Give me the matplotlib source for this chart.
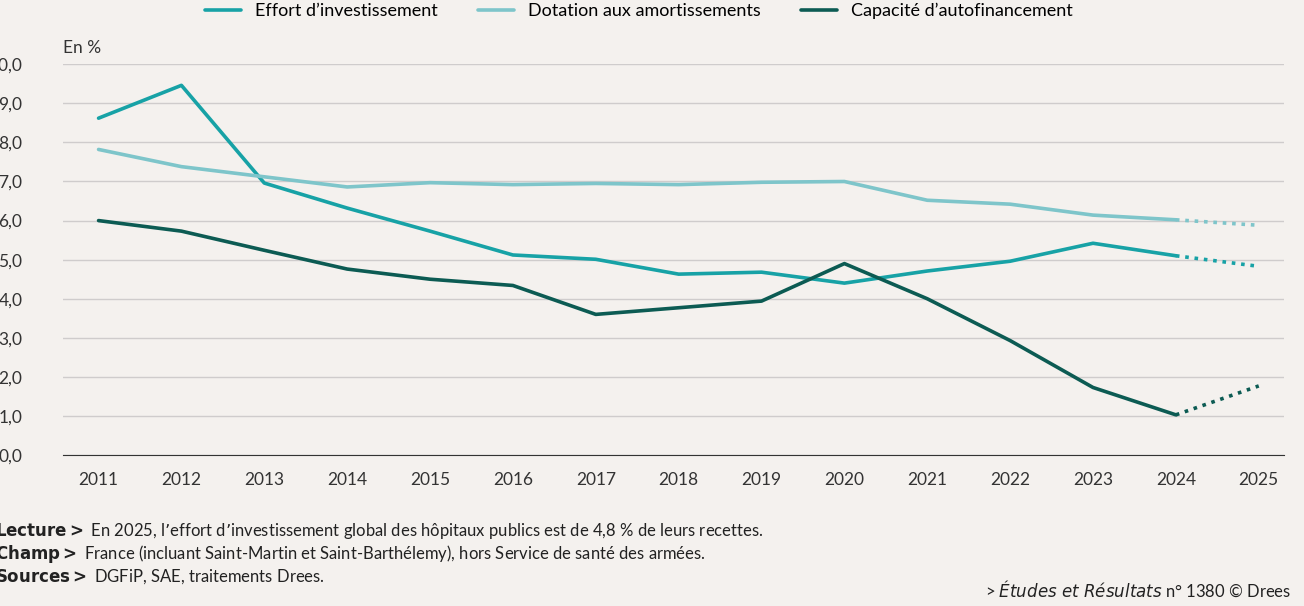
import matplotlib.pyplot as plt

plt.rcParams['font.family'] = ['Lato', 'DejaVu Sans']

annees = list(range(2011, 2026))
effort = [8.62, 9.46, 6.96, 6.32, 5.73, 5.12, 5.01, 4.63, 4.68, 4.40, 4.71, 4.96, 5.42, 5.10, 4.83]
dotation = [7.82, 7.38, 7.12, 6.86, 6.97, 6.92, 6.95, 6.92, 6.98, 7.00, 6.52, 6.42, 6.14, 6.02, 5.88]
caf = [6.00, 5.73, 5.24, 4.76, 4.50, 4.34, 3.60, 3.77, 3.94, 4.90, 4.00, 2.93, 1.73, 1.03, 1.77]

series = [
    ("Effort d\u2019investissement", effort, "#17a2a6"),
    ("Dotation aux amortissements", dotation, "#7ec5ca"),
    ("Capacité d\u2019autofinancement", caf, "#0c5b53"),
]

bg = "#f4f1ee"
fig = plt.figure(figsize=(13.04, 6.06), dpi=100, facecolor=bg)
ax = fig.add_axes([0.048, 0.249, 0.937, 0.645], facecolor=bg)

for nom, vals, col in series:
    ax.plot(annees[:-1], vals[:-1], color=col, lw=2.6, label=nom, solid_capstyle="round")
    ax.plot(annees[-2:], vals[-2:], color=col, lw=2.6, ls=(0, (1, 1.6)))

ax.set_xlim(2010.566, 2025.31)
ax.set_ylim(0, 10)
ax.set_yticks(range(11))
ax.set_yticklabels([f"{v},0" for v in range(11)])
ax.set_xticks(annees)
ax.tick_params(length=0, labelsize=12.5, colors="#333333")
ax.tick_params(axis="x", pad=12)
ax.tick_params(axis="y", pad=29)
ax.grid(axis="y", color="#cfcccc", lw=1)
ax.set_axisbelow(True)
for s in ["top", "right", "left"]:
    ax.spines[s].set_visible(False)
ax.spines["bottom"].set_color("#333333")
ax.text(-0.0, 1.03, "En %", transform=ax.transAxes, fontsize=12.5, color="#333333")

fig.legend(loc="upper center", bbox_to_anchor=(0.49, 1.022), ncol=3, frameon=False,
           fontsize=13, handlelength=2, columnspacing=2.2)

txt = dict(fontsize=12, color="#222222")
fig.text(-0.004, 0.115, r"$\bf{Lecture >}$" + " En 2025, l\u2019effort d\u2019investissement global des hôpitaux publics est de 4,8 % de leurs recettes.", **txt)
fig.text(-0.004, 0.078, r"$\bf{Champ >}$" + " France (incluant Saint-Martin et Saint-Barthélemy), hors Service de santé des armées.", **txt)
fig.text(-0.004, 0.041, r"$\bf{Sources >}$" + " DGFiP, SAE, traitements Drees.", **txt)
fig.text(0.99, 0.015, r"> $\it{Études\ et\ Résultats}$ n° 1380 © Drees", ha="right", **txt)

fig.savefig("out.png", facecolor=bg)
